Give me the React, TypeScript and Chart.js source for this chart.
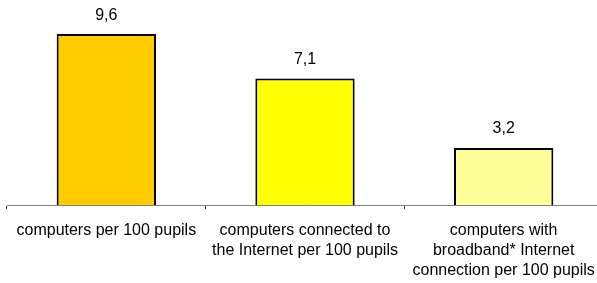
import React, { useEffect, useRef } from "react";
import { Chart, registerables } from "chart.js";

Chart.register(...registerables);

const categories: string[][] = [
  ["computers per 100 pupils"],
  ["computers connected to", "the Internet per 100 pupils"],
  ["computers with", "broadband* Internet", "connection per 100 pupils"],
];
const values: number[] = [9.6, 7.1, 3.2];
const valueLabels: string[] = ["9,6", "7,1", "3,2"];
const barColors: string[] = ["#FFCC00", "#FFFF00", "#FFFF99"];

const FONT = "'Liberation Sans', Arial, sans-serif";

const valueLabelPlugin = {
  id: "valueLabels",
  afterDatasetsDraw(chart: any) {
    const { ctx } = chart;
    const meta = chart.getDatasetMeta(0);
    ctx.save();
    ctx.font = `16px ${FONT}`;
    ctx.fillStyle = "#000";
    ctx.textAlign = "center";
    ctx.textBaseline = "middle";
    meta.data.forEach((bar: any, i: number) => {
      ctx.fillText(valueLabels[i], bar.x, bar.y - 19);
    });
    ctx.restore();
  },
};

export default function App() {
  const ref = useRef<HTMLCanvasElement | null>(null);
  useEffect(() => {
    if (!ref.current) return;
    const chart = new Chart(ref.current, {
      type: "bar",
      data: {
        labels: categories,
        datasets: [
          {
            data: values,
            backgroundColor: barColors,
            borderColor: "#000",
            borderWidth: 2,
            barPercentage: 0.5,
            categoryPercentage: 1,
          },
        ],
      },
      options: {
        animation: false,
        responsive: true,
        maintainAspectRatio: false,
        layout: { padding: { left: 7, right: 7, top: 27, bottom: 0 } },
        plugins: { legend: { display: false }, tooltip: { enabled: false } },
        scales: {
          y: { display: false, min: 0, max: 10 },
          x: {
            afterFit(scale: any) {
              scale.height = 78;
            },
            border: { display: true, color: "#808080", width: 1 },
            grid: {
              offset: true,
              drawOnChartArea: false,
              drawTicks: true,
              tickLength: 4,
              color: "#303030",
            },
            ticks: {
              color: "#000",
              font: { family: FONT, size: 16, lineHeight: 1.25 },
              padding: 12,
              maxRotation: 0,
              autoSkip: false,
            },
          },
        },
      },
      plugins: [valueLabelPlugin],
    });
    return () => chart.destroy();
  }, []);
  return (
    <div style={{ position: "fixed", left: 0, top: 0, width: 597, height: 283, overflow: "hidden", background: "#fff" }}>
      <div style={{ position: "relative", width: 610, height: 283 }}>
        <canvas ref={ref} />
      </div>
    </div>
  );
}
